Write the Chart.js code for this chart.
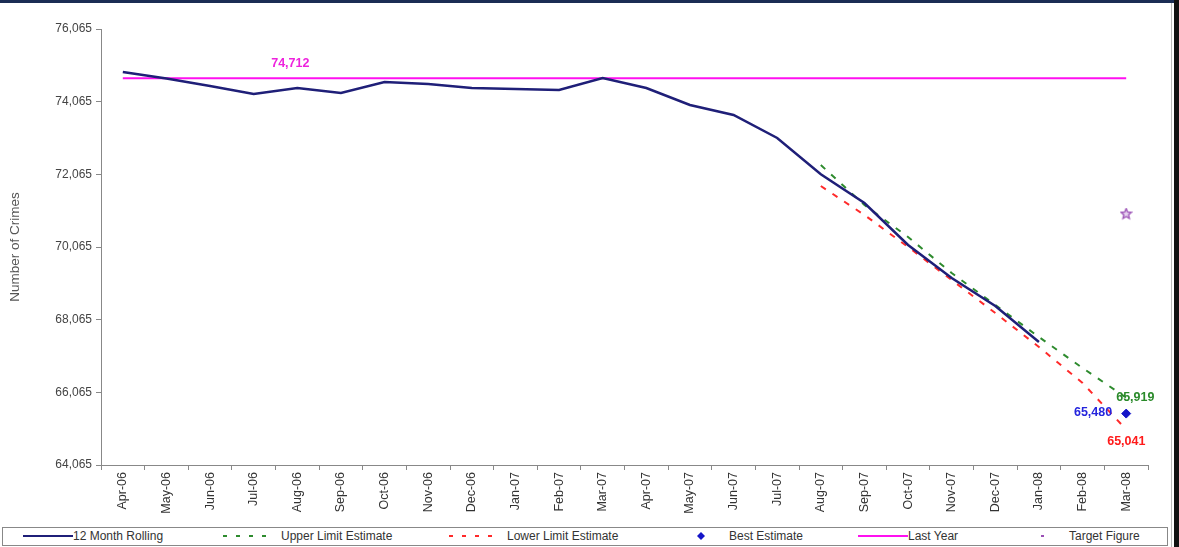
<!DOCTYPE html>
<html lang="en">
<head>
<meta charset="UTF-8">
<title>Number of Crimes</title>
<style>
  body { margin: 0; background: #fff; font-family: "Liberation Sans", Arial, sans-serif; }
  #frame { position: relative; width: 1179px; height: 547px; overflow: hidden; background: #fff; }
  #topbar { position: absolute; left: 0; top: 0; width: 1179px; height: 3px; background: #1b2d54; }
  #rightbar { position: absolute; left: 1174px; top: 0; width: 5px; height: 547px; background: #111; }
  #rightline { position: absolute; left: 1171px; top: 3px; width: 1px; height: 544px; background: #bbb; }
  #wrap { position: absolute; left: 0; top: 0; width: 1172px; height: 524px; }
  #legend { position: absolute; left: 2px; top: 527px; width: 1164px; height: 17px; border: 1px solid #888; font-size: 12px; color: #333; }
  .item { position: absolute; top: 1px; height: 15px; line-height: 15px; white-space: nowrap; }
  .item canvas { vertical-align: middle; margin-top: -2px; }
</style>
</head>
<body>
<div id="frame">
  <div id="topbar"></div>
  <div id="wrap"><canvas id="myChart"></canvas></div>
  <div id="legend"></div>
  <div id="rightline"></div>
  <div id="rightbar"></div>
</div>

<script src="https://cdn.jsdelivr.net/npm/chart.js"></script>
<script>
// Monate
const months = ['Apr-06','May-06','Jun-06','Jul-06','Aug-06','Sep-06','Oct-06','Nov-06','Dec-06','Jan-07','Feb-07','Mar-07',
                'Apr-07','May-07','Jun-07','Jul-07','Aug-07','Sep-07','Oct-07','Nov-07','Dec-07','Jan-08','Feb-08','Mar-08'];

// 12 Month Rolling
const rolling = [74881, 74700, 74496, 74276, 74441, 74303, 74606, 74551, 74441, 74413, 74386, 74716,
                 74441, 73973, 73698, 73065, 72065, 71276, 70120, 69212, 68441, 67450, null, null];
// Schätzungen
const upperLimit = [null, null, null, null, null, null, null, null, null, null, null, null,
                    null, null, null, null, 72320, 71221, 70340, 69349, 68469, 67588, 66735, 65919];
const lowerLimit = [null, null, null, null, null, null, null, null, null, null, null, null,
                    null, null, null, null, 71744, 70946, 70065, 69157, 68248, 67313, 66322, 65041];
const bestEstimate = [null, null, null, null, null, null, null, null, null, null, null, null,
                      null, null, null, null, null, null, null, null, null, null, null, 65480];
const lastYearValue = 74712;
const lastYear = months.map(() => lastYearValue);
const targetFigure = [null, null, null, null, null, null, null, null, null, null, null, null,
                      null, null, null, null, null, null, null, null, null, null, null, 70973];

// y-Achse
const yTicks = [64065, 66065, 68065, 70065, 72065, 74065, 76065];

const fmt = v => v.toLocaleString('en-US');

// Stern als Punkt (Umriss)
function makeStar(size, color) {
  const cv = document.createElement('canvas');
  cv.width = size; cv.height = size;
  const g = cv.getContext('2d');
  const cx = size / 2, cy = size / 2, ro = size / 2 - 1, ri = ro * 0.45;
  g.beginPath();
  for (let i = 0; i < 10; i++) {
    const r = i % 2 ? ri : ro;
    const a = -Math.PI / 2 + i * Math.PI / 5;
    g.lineTo(cx + r * Math.cos(a), cy + r * Math.sin(a));
  }
  g.closePath();
  g.strokeStyle = color; g.lineWidth = 1.3;
  g.fillStyle = '#e6d3ee';
  g.fill();
  g.stroke();
  return cv;
}
const starImg = makeStar(13, '#9a4fb5');

// Beschriftungen an den Endpunkten
const labelPlugin = {
  id: 'valueLabels',
  afterDatasetsDraw(chart) {
    const c = chart.ctx, x = chart.scales.x, y = chart.scales.y;
    const last = months.length - 1;
    c.save();
    c.font = 'bold 12.5px "Liberation Sans", Arial, sans-serif';
    c.textBaseline = 'middle';
    // Last Year
    c.fillStyle = '#ee22dd';
    c.textAlign = 'center';
    c.fillText(fmt(lastYearValue), x.getPixelForValue(4) - 7, y.getPixelForValue(lastYearValue) - 15);
    // Upper
    c.fillStyle = '#2a8a2a';
    c.textAlign = 'left';
    c.fillText(fmt(upperLimit[last]), x.getPixelForValue(last) - 10, y.getPixelForValue(upperLimit[last]));
    // Best
    c.fillStyle = '#2525dd';
    c.textAlign = 'right';
    c.fillText(fmt(bestEstimate[last]), x.getPixelForValue(last) - 14, y.getPixelForValue(bestEstimate[last]) - 1);
    // Lower
    c.fillStyle = '#ff1a1a';
    c.textAlign = 'left';
    c.fillText(fmt(lowerLimit[last]), x.getPixelForValue(last) - 19, y.getPixelForValue(lowerLimit[last]) + 12);
    c.restore();
  }
};

const ctx = document.getElementById('myChart');
const chart = new Chart(ctx, {
  type: 'line',
  data: {
    labels: months,
    datasets: [
      { label: '12 Month Rolling', data: rolling, borderColor: '#1f1f78', borderWidth: 2.5, pointRadius: 0, order: 1 },
      { label: 'Upper Limit Estimate', data: upperLimit, borderColor: '#2e8b2e', borderWidth: 2, borderDash: [6, 8], pointRadius: 0, order: 2 },
      { label: 'Lower Limit Estimate', data: lowerLimit, borderColor: '#ff2a2a', borderWidth: 2, borderDash: [6, 8], pointRadius: 0, order: 3 },
      { label: 'Best Estimate', data: bestEstimate, showLine: false, pointStyle: 'rectRot', pointRadius: 4.5,
        backgroundColor: '#1515c8', borderColor: '#1515c8', order: 0 },
      { label: 'Last Year', data: lastYear, borderColor: '#ff10f0', borderWidth: 2, pointRadius: 0, order: 5 },
      { label: 'Target Figure', data: targetFigure, showLine: false, pointStyle: starImg, pointRadius: 6,
        borderColor: '#9a4fb5', backgroundColor: '#9a4fb5', order: 0 }
    ]
  },
  options: {
    responsive: true,
    maintainAspectRatio: false,
    animation: false,
    spanGaps: false,
    layout: { padding: { top: 29, right: 24, left: 0, bottom: 0 } },
    plugins: { legend: { display: false }, tooltip: { enabled: false } },
    scales: {
      x: {
        offset: true,
        afterFit: s => { s.height = 59; },
        grid: { drawOnChartArea: false, color: '#888', tickLength: 5, offset: true },
        border: { color: '#888', width: 1 },
        ticks: { maxRotation: 90, minRotation: 90, autoSkip: false, color: '#333', padding: 2,
                 font: { family: '"Liberation Sans", Arial, sans-serif', size: 12.5 } }
      },
      y: {
        min: 64065,
        max: 76065,
        afterFit: s => { s.width = 101; },
        afterBuildTicks: s => { s.ticks = yTicks.map(v => ({ value: v })); },
        grid: { drawOnChartArea: false, color: '#888', tickLength: 5 },
        border: { color: '#888', width: 1 },
        title: { display: true, text: 'Number of Crimes', color: '#555', padding: { top: 7, bottom: 0 },
                 font: { family: '"Liberation Sans", Arial, sans-serif', size: 13.5 } },
        ticks: { color: '#444', padding: 4, callback: v => fmt(v),
                 font: { family: '"Liberation Sans", Arial, sans-serif', size: 12 } }
      }
    }
  },
  plugins: [labelPlugin]
});

// Legende
const legendItems = [
  { text: '12 Month Rolling', x: 20, kind: 'line', color: '#1f1f78' },
  { text: 'Upper Limit Estimate', x: 218, kind: 'dash', color: '#2e8b2e' },
  { text: 'Lower Limit Estimate', x: 444, kind: 'dash', color: '#ff2a2a' },
  { text: 'Best Estimate', x: 690, kind: 'diamond', color: '#1515c8' },
  { text: 'Last Year', x: 855, kind: 'line', color: '#ff10f0' },
  { text: 'Target Figure', x: 1030, kind: 'dot', color: '#9a4fb5' }
];
const legend = document.getElementById('legend');
legendItems.forEach(it => {
  const d = document.createElement('div');
  d.className = 'item';
  d.style.left = it.x + 'px';
  const w = (it.kind === 'line' || it.kind === 'dash') ? 50 : 26;
  const cv = document.createElement('canvas');
  cv.width = w; cv.height = 10;
  const g = cv.getContext('2d');
  g.strokeStyle = it.color; g.fillStyle = it.color; g.lineWidth = 2;
  if (it.kind === 'line') { g.beginPath(); g.moveTo(0, 5); g.lineTo(w, 5); g.stroke(); }
  if (it.kind === 'dash') { g.setLineDash([4, 9]); g.beginPath(); g.moveTo(2, 5); g.lineTo(w, 5); g.stroke(); }
  if (it.kind === 'diamond') { g.beginPath(); g.moveTo(8, 1); g.lineTo(12, 5); g.lineTo(8, 9); g.lineTo(4, 5); g.closePath(); g.fill(); }
  if (it.kind === 'dot') { g.fillRect(8, 4, 3, 2); }
  d.appendChild(cv);
  const s = document.createElement('span');
  s.textContent = it.text;
  s.style.marginLeft = (it.kind === 'line') ? '0px' : '10px';
  d.appendChild(s);
  legend.appendChild(d);
});
</script>
</body>
</html>
